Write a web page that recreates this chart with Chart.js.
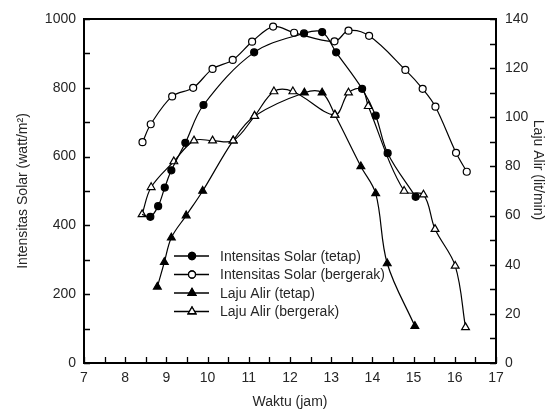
<!DOCTYPE html>
<html>
<head>
<meta charset="utf-8">
<script src="https://cdn.jsdelivr.net/npm/chart.js@4/dist/chart.umd.min.js"></script>
<style>
  html, body { margin: 0; padding: 0; background: #fff; }
  #wrap { width: 555px; height: 414px; }
</style>
</head>
<body>
<div id="wrap"><canvas id="grafik" width="555" height="414"></canvas></div>
<script>
// nama seri (legenda)
const seriesNames = [
  'Intensitas Solar (tetap)',
  'Intensitas Solar (bergerak)',
  'Laju Alir (tetap)',
  'Laju Alir (bergerak)'
];

// Intensitas solar (watt/m2)
const jamSolarTetap = [8.41, 8.61, 8.80, 8.96, 9.12, 9.46, 9.90, 11.13, 12.34, 12.78, 13.12, 13.75, 14.08, 14.37, 15.05];
const solarTetap    = [432, 425, 456, 510, 560, 640, 750, 903, 958, 962, 903, 797, 719, 610, 483];

const jamSolarBergerak = [8.42, 8.62, 9.14, 9.65, 10.12, 10.61, 11.08, 11.59, 12.10, 13.08, 13.42, 13.92, 14.80, 15.22, 15.53, 16.03, 16.29];
const solarBergerak    = [642, 694, 775, 800, 855, 881, 934, 978, 960, 935, 966, 951, 852, 797, 745, 611, 556];

// Laju alir (lit/min)
const jamAlirTetap = [8.78, 8.95, 9.12, 9.48, 9.88, 10.62, 11.14, 12.35, 12.78, 13.09, 13.72, 14.08, 14.36, 15.03];
const alirTetap    = [31, 41, 51, 60, 70, 90.5, 100.5, 110, 110, 101, 80, 69, 40.5, 15];

const jamAlirBergerak = [8.41, 8.63, 9.18, 9.67, 10.12, 10.62, 11.14, 11.61, 12.07, 13.09, 13.42, 13.75, 13.90, 14.77, 15.24, 15.52, 16.01, 16.26];
const alirBergerak    = [60.5, 71.5, 82, 90.5, 90.5, 90.5, 100.5, 110.5, 110.5, 101, 110, 111.5, 104.5, 70, 68.5, 54.5, 39.5, 14.5];

// tick
const xTicks = [7, 7.5, 8, 8.5, 9, 9.5, 10, 10.5, 11, 11.5, 12, 12.5, 13, 13.5, 14, 14.5, 15, 15.5, 16, 16.5, 17];
const xLabels = [7, 8, 9, 10, 11, 12, 13, 14, 15, 16, 17];
const yTicks = [0, 100, 200, 300, 400, 500, 600, 700, 800, 900, 1000];
const yLabels = [0, 200, 400, 600, 800, 1000];
const y1Ticks = [0, 10, 20, 30, 40, 50, 60, 70, 80, 90, 100, 110, 120, 130, 140];
const y1Labels = [0, 20, 40, 60, 80, 100, 120, 140];

const toPoints = (xs, ys) => xs.map((x, i) => ({ x: x, y: ys[i] }));

const FONT = { family: "'Liberation Sans', Arial, sans-serif", size: 14 };
const TEXT = '#262626';

// frame + tick ke dalam + legenda + judul sumbu kanan
const framePlugin = {
  id: 'frame',
  afterDatasetsDraw(chart) {
    const ctx = chart.ctx;
    const a = chart.chartArea;
    const sx = chart.scales.x, sy = chart.scales.y, sy1 = chart.scales.y1;
    const tl = 6;
    ctx.save();
    ctx.strokeStyle = '#000';
    ctx.lineWidth = 1.3;
    ctx.beginPath();
    xTicks.forEach(v => {
      const p = Math.round(sx.getPixelForValue(v)) + 0.5;
      ctx.moveTo(p, a.bottom); ctx.lineTo(p, a.bottom - tl);
    });
    yTicks.forEach(v => {
      const p = Math.round(sy.getPixelForValue(v)) + 0.5;
      ctx.moveTo(a.left, p); ctx.lineTo(a.left + tl, p);
    });
    y1Ticks.forEach(v => {
      const p = Math.round(sy1.getPixelForValue(v)) + 0.5;
      ctx.moveTo(a.right, p); ctx.lineTo(a.right - tl, p);
    });
    ctx.stroke();
    ctx.lineWidth = 2;
    ctx.strokeRect(a.left, a.top, a.right - a.left, a.bottom - a.top);

    ctx.font = FONT.size + 'px ' + FONT.family;

    // judul sumbu kanan
    ctx.save();
    ctx.translate(538, 170);
    ctx.rotate(Math.PI / 2);
    ctx.textAlign = 'center';
    ctx.textBaseline = 'middle';
    ctx.fillStyle = TEXT;
    ctx.fillText('Laju Alir (lit/min)', 0, 0);
    ctx.restore();

    // legenda
    const lx = 174, ly = 256, step = 18.5;
    ctx.textBaseline = 'middle';
    chart.data.datasets.forEach((ds, i) => {
      const y = ly + i * step;
      ctx.strokeStyle = '#000';
      ctx.lineWidth = 1.3;
      ctx.beginPath();
      ctx.moveTo(lx, y); ctx.lineTo(lx + 35, y);
      ctx.stroke();
      ctx.fillStyle = ds.pointBackgroundColor;
      Chart.helpers.drawPoint(ctx, {
        pointStyle: ds.pointStyle,
        radius: ds.pointStyle === 'circle' ? 3.5 : 4.5,
        rotation: 0,
        borderWidth: 1.2
      }, lx + 18, y);
      ctx.fill();
      ctx.stroke();
      ctx.fillStyle = TEXT;
      ctx.fillText(seriesNames[i], lx + 46, y + 1);
    });
    ctx.restore();
  }
};

const lineStyle = {
  showLine: true,
  borderColor: '#000',
  borderWidth: 1.2,
  tension: 0.35,
  pointBorderColor: '#000',
  pointBorderWidth: 1.2,
  pointHoverRadius: 4
};

new Chart(document.getElementById('grafik'), {
  type: 'scatter',
  data: {
    datasets: [
      Object.assign({}, lineStyle, {
        label: seriesNames[0],
        data: toPoints(jamSolarTetap, solarTetap),
        yAxisID: 'y',
        pointStyle: 'circle',
        pointRadius: c => c.dataIndex === 0 ? 0 : 3.5,
        pointBackgroundColor: '#000',
        order: 0
      }),
      Object.assign({}, lineStyle, {
        label: seriesNames[1],
        data: toPoints(jamSolarBergerak, solarBergerak),
        yAxisID: 'y',
        pointStyle: 'circle',
        pointRadius: 3.5,
        pointBackgroundColor: '#fff',
        order: 3
      }),
      Object.assign({}, lineStyle, {
        label: seriesNames[2],
        data: toPoints(jamAlirTetap, alirTetap),
        yAxisID: 'y1',
        pointStyle: 'triangle',
        pointRadius: 4.5,
        pointBackgroundColor: '#000',
        order: 2
      }),
      Object.assign({}, lineStyle, {
        label: seriesNames[3],
        data: toPoints(jamAlirBergerak, alirBergerak),
        yAxisID: 'y1',
        pointStyle: 'triangle',
        pointRadius: c => c.dataIndex === 11 ? 0 : 4.5,
        pointBackgroundColor: '#fff',
        order: 1
      })
    ]
  },
  options: {
    responsive: false,
    animation: false,
    layout: { padding: { top: 19, left: 0, right: 0, bottom: 0 } },
    plugins: {
      legend: { display: false },
      tooltip: { enabled: false }
    },
    scales: {
      x: {
        type: 'linear',
        position: 'bottom',
        min: 7,
        max: 17,
        afterFit: s => { s.height = 51; },
        afterBuildTicks: s => { s.ticks = xTicks.map(v => ({ value: v })); },
        grid: { display: false, drawTicks: false },
        border: { display: false },
        ticks: {
          autoSkip: false,
          maxRotation: 0,
          padding: 7,
          color: TEXT,
          font: FONT,
          callback: v => xLabels.includes(v) ? String(v) : ''
        },
        title: { display: true, text: 'Waktu (jam)', color: TEXT, font: FONT, padding: { top: 0, bottom: 3 } }
      },
      y: {
        type: 'linear',
        position: 'left',
        min: 0,
        max: 1000,
        afterFit: s => { s.width = 84; },
        afterBuildTicks: s => { s.ticks = yTicks.map(v => ({ value: v })); },
        grid: { display: false, drawTicks: false },
        border: { display: false },
        ticks: {
          autoSkip: false,
          padding: 8,
          color: TEXT,
          font: FONT,
          callback: v => yLabels.includes(v) ? String(v) : ''
        },
        title: { display: true, text: 'Intensitas Solar (watt/m²)', color: TEXT, font: FONT, padding: { top: 15, bottom: 0 } }
      },
      y1: {
        type: 'linear',
        position: 'right',
        min: 0,
        max: 140,
        afterFit: s => { s.width = 59; },
        afterBuildTicks: s => { s.ticks = y1Ticks.map(v => ({ value: v })); },
        grid: { display: false, drawTicks: false },
        border: { display: false },
        ticks: {
          autoSkip: false,
          padding: 9,
          color: TEXT,
          font: FONT,
          callback: v => y1Labels.includes(v) ? String(v) : ''
        },
        title: { display: false }
      }
    }
  },
  plugins: [framePlugin]
});
</script>
</body>
</html>
